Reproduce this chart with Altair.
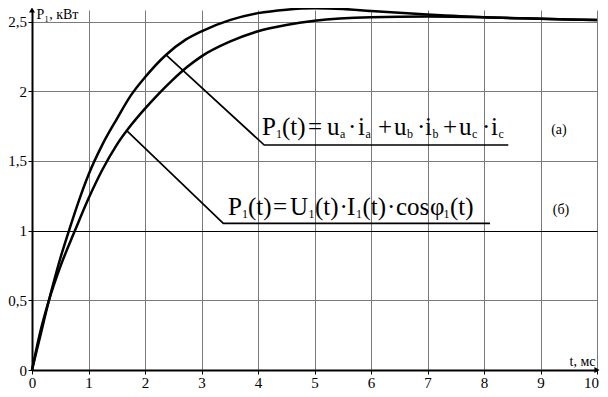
import altair as alt
import pandas as pd

# ---- curve data ----
t_a = [0, 0.15, 0.3, 0.5, 0.655, 0.835, 1.0, 1.25, 1.5, 1.75, 2.0, 2.37, 2.72, 3.0, 3.5, 4.0, 4.5, 5.0, 5.5, 6.0, 7.0, 8.0, 9.0, 10.0]
p_a = [0, 0.25, 0.5, 0.80, 1.0, 1.22, 1.40, 1.62, 1.80, 1.97, 2.10, 2.26, 2.37, 2.43, 2.51, 2.56, 2.585, 2.595, 2.59, 2.575, 2.55, 2.53, 2.52, 2.51]
t_b = [0, 0.15, 0.3, 0.5, 0.76, 1.0, 1.25, 1.5, 1.75, 2.0, 2.25, 2.5, 2.75, 3.0, 3.5, 4.0, 4.5, 5.0, 6.0, 7.0, 8.0, 9.0, 10.0]
p_b = [0, 0.28, 0.5, 0.74, 1.0, 1.23, 1.44, 1.615, 1.755, 1.875, 1.985, 2.085, 2.175, 2.25, 2.355, 2.43, 2.475, 2.505, 2.53, 2.535, 2.53, 2.52, 2.51]

x_ticks = [0, 1, 2, 3, 4, 5, 6, 7, 8, 9, 10]
y_ticks = [0, 0.5, 1, 1.5, 2, 2.5]

# ---- leader lines (data units) ----
lead_id = ["a", "a", "a", "b", "b", "b"]
lead_k = [0, 1, 2, 0, 1, 2]
lead_t = [2.372, 4.11, 8.43, 1.676, 3.386, 8.106]
lead_p = [2.26, 1.614, 1.614, 1.717, 1.052, 1.052]

# ---- formula pieces (data units) ----
main_s = ["P", "(t)", "=", "u", "·", "i", "+", "u", "·", "i", "+", "u", "·", "i",
          "P", "(t)", "=", "U", "(t)", "·", "I", "(t)", "·", "cos", "φ", "(t)"]
main_t = [4.071, 4.425, 4.885, 5.221, 5.593, 5.770, 6.124, 6.407, 6.814, 6.956, 7.274, 7.558, 7.965, 8.124,
          3.469, 3.823, 4.265, 4.566, 5.009, 5.442, 5.575, 5.850, 6.283, 6.442, 7.044, 7.398]
main_p = [1.686] * 14 + [1.112] * 12

sub_s = ["1", "a", "a", "b", "b", "c", "c", "1", "1", "1", "1"]
sub_t = [4.319, 5.451, 5.903, 6.637, 7.088, 7.788, 8.257, 3.717, 4.894, 5.735, 7.283]
sub_p = [1.664] * 7 + [1.090] * 4

tag_s = ["(а)", "(б)"]
tag_t = [9.327, 9.363]
tag_p = [1.722, 1.148]

arrow_t = [10, 0]
arrow_p = [0, 2.5825]
arrow_shape = ["triangle-right", "triangle-up"]

curves = pd.DataFrame({
    "t": t_a + t_b,
    "p": p_a + p_b,
    "series": ["a"] * len(t_a) + ["b"] * len(t_b),
})
leaders = pd.DataFrame({"t": lead_t, "p": lead_p, "id": lead_id, "k": lead_k})
mains = pd.DataFrame({"t": main_t, "p": main_p, "s": main_s})
subs = pd.DataFrame({"t": sub_t, "p": sub_p, "s": sub_s})
tags = pd.DataFrame({"t": tag_t, "p": tag_p, "s": tag_s})
arrows = pd.DataFrame({"t": arrow_t, "p": arrow_p, "shape": arrow_shape})

SERIF = "Liberation Serif"

xs = alt.Scale(domain=[0, 10], nice=False, zero=False)
ys = alt.Scale(domain=[0, 2.5825], nice=False, zero=False)

xaxis = alt.Axis(
    values=x_ticks, format="d",
    labelFont=SERIF, labelFontSize=15, labelColor="black", labelPadding=1,
    labelOverlap=False, labelFlush=False,
    labelOffset={"condition": {"test": "datum.value === 10", "value": -6}, "value": 0},
    tickSize=4, tickColor="black",
    domainColor="black", domainWidth=2,
    grid=True, gridWidth=1,
    gridColor={"condition": {"test": "datum.value === 0", "value": "black"}, "value": "#7a7a7a"},
    title="t, мс", titleFont=SERIF, titleFontSize=14, titleFontWeight="normal", titleColor="black",
    titleX=563, titleY=-5, titleAlign="right", titleBaseline="alphabetic", titleAngle=0,
)
yaxis = alt.Axis(
    values=y_ticks,
    labelExpr="replace(format(datum.value, '~g'), '.', ',')",
    labelFont=SERIF, labelFontSize=15, labelColor="black", labelPadding=1.5,
    labelOverlap=False, labelFlush=False, labelBaseline="middle",
    tickSize=4, tickColor="black",
    domainColor="black", domainWidth=2,
    grid=True, gridWidth=1,
    gridColor={"condition": {"test": "datum.value === 1 || datum.value === 0", "value": "black"}, "value": "#7a7a7a"},
    title="P₁, кВт", titleFont=SERIF, titleFontSize=14, titleFontWeight="normal", titleColor="black",
    titleX=4, titleY=8, titleAlign="left", titleBaseline="alphabetic", titleAngle=0,
)

X = alt.X("t:Q", scale=xs, axis=xaxis)
Y = alt.Y("p:Q", scale=ys, axis=yaxis)

curve_layer = alt.Chart(curves).mark_line(
    color="black", strokeWidth=2.5, interpolate="monotone"
).encode(x=X, y=Y, detail="series:N")

leader_layer = alt.Chart(leaders).mark_line(
    color="black", strokeWidth=1.7
).encode(x=X, y=Y, detail="id:N", order="k:O")

main_layer = alt.Chart(mains).mark_text(
    font=SERIF, fontSize=25, align="left", baseline="alphabetic", color="black"
).encode(x=X, y=Y, text="s:N")

sub_layer = alt.Chart(subs).mark_text(
    font=SERIF, fontSize=12, align="left", baseline="alphabetic", color="black"
).encode(x=X, y=Y, text="s:N")

tag_layer = alt.Chart(tags).mark_text(
    font=SERIF, fontSize=14, align="center", baseline="middle", color="black"
).encode(x=X, y=Y, text="s:N")

arrow_layer = alt.Chart(arrows).mark_point(
    filled=True, color="black", opacity=1, size=36
).encode(x=X, y=Y, shape=alt.Shape("shape:N", scale=None))

chart = alt.layer(
    curve_layer, leader_layer, main_layer, sub_layer, tag_layer, arrow_layer
).properties(
    width=565, height=360,
    autosize=alt.AutoSizeParams(type="none"),
    padding={"left": 24, "top": 2, "right": 3, "bottom": 19},
    background="white",
).configure_view(stroke=None).configure_axis(labelFont=SERIF, titleFont=SERIF)

chart.save("out.html", embed_options={"renderer": "svg", "actions": False})
